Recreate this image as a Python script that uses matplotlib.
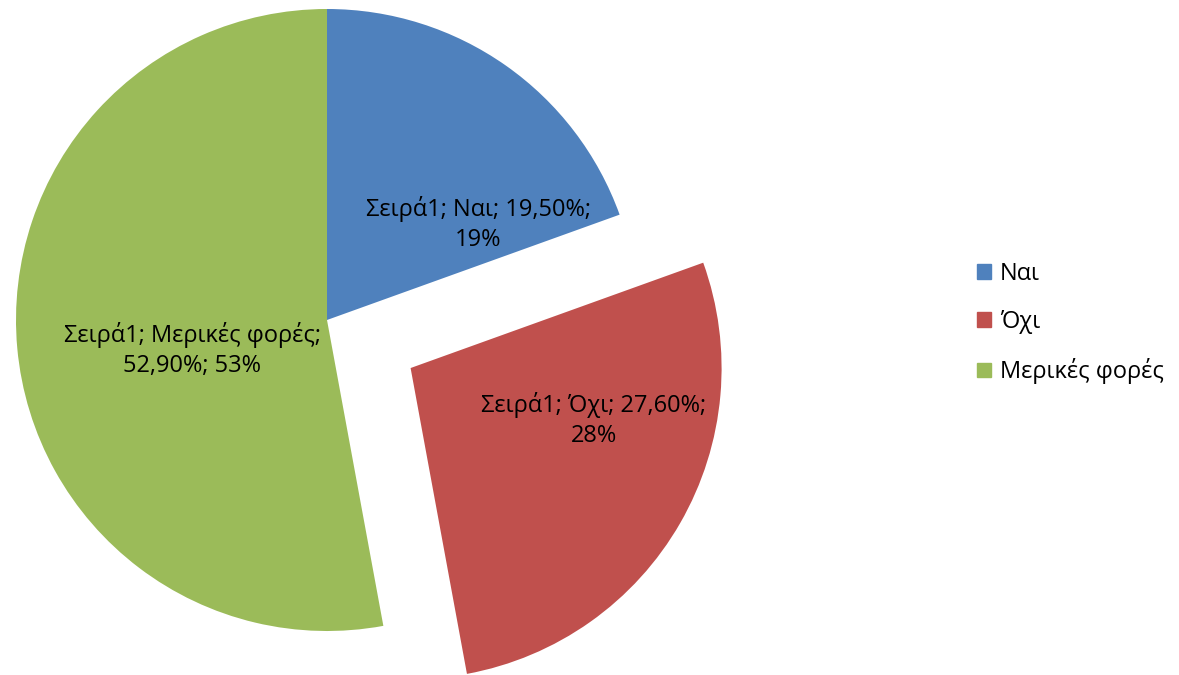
import matplotlib.pyplot as plt
import matplotlib.patches as mpatches

plt.rcParams['font.family'] = ['Open Sans', 'DejaVu Sans']

categories = ['Ναι', 'Όχι', 'Μερικές φορές']
values = [19.5, 27.6, 52.9]
rounded = ['19%', '28%', '53%']
series_name = 'Σειρά1'
colors = ['#4F81BD', '#C0504D', '#9BBB59']

W, H = 1179, 675
fig = plt.figure(figsize=(W / 100, H / 100), dpi=100)
ax = fig.add_axes([0, 0, 1, 1])

cx, cy, r = 327, 355, 311
explode = [0, 0.31 * r, 0]  # matplotlib uses data units for explode
wedges, _ = ax.pie(values, colors=colors, startangle=90, counterclock=False,
                   explode=explode, radius=r, center=(cx, cy), frame=True)
ax.set_xlim(0, W)
ax.set_ylim(0, H)
ax.set_aspect('equal')
ax.axis('off')

# label offsets (px) from the pie centre, as Excel places them
offsets = [(151, 96), (267, -100), (-135, -30)]
texts = [
    f'{series_name}; {categories[0]}; {values[0]:.2f}%;\n{rounded[0]}',
    f'{series_name}; {categories[1]}; {values[1]:.2f}%;\n{rounded[1]}',
    f'{series_name}; {categories[2]};\n{values[2]:.2f}%; {rounded[2]}',
]
for (dx, dy), t in zip(offsets, texts):
    ax.text(cx + dx, cy + dy, t.replace('.', ','), ha='center', va='center',
            fontsize=17, color='black', linespacing=1.3)

handles = [mpatches.Patch(color=c) for c in colors]
fig.legend(handles, categories, loc='center left',
           bbox_to_anchor=(956 / W, 1 - 323 / H), frameon=False,
           fontsize=17, handlelength=0.6, handleheight=0.6,
           handletextpad=0.35, labelspacing=1.03)

fig.savefig('out.png', dpi=100)
